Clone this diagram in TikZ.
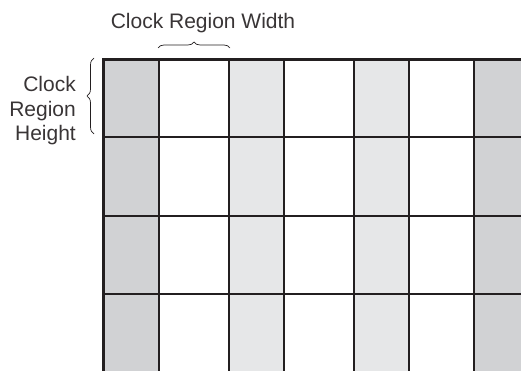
\documentclass[tikz,border=0pt]{standalone}
\usepackage{fontspec}
\setmainfont{Liberation Sans}
\usetikzlibrary{decorations.pathreplacing}
\definecolor{darkcol}{HTML}{D1D2D4}
\definecolor{lightcol}{HTML}{E6E7E8}
\definecolor{inkcol}{HTML}{231F20}
\tikzset{
  gridline/.style={draw=inkcol, line width=2pt},
  edgeline/.style={draw=inkcol, line width=3pt},
  bracemark/.style={draw=inkcol, line width=0.7pt, decorate, decoration={brace, amplitude=6pt}},
  lbl/.style={font=\fontsize{21}{24}\selectfont, text=inkcol!90!white, inner sep=0pt},
}
\begin{document}
\begin{tikzpicture}[x=1pt,y=-1pt]
\useasboundingbox (0,0) rectangle (521,371);
% column fills
\fill[darkcol] (103,60) rectangle (159,371);
\fill[lightcol] (228.5,60) rectangle (283.5,371);
\fill[lightcol] (353.5,60) rectangle (408.5,371);
\fill[darkcol] (474,60) rectangle (521,371);
% coordinates
\coordinate (tl) at (103.5,60);
\coordinate (tr) at (521,60);
\coordinate (bl) at (103.5,371);
% inner vertical lines
\foreach \x in {159,228.5,283.5,353.5,408.5,474}
  \draw[gridline] (\x,60) -- (\x,371);
% inner horizontal lines
\foreach \y in {137,215.5,294}
  \draw[gridline] (103.5,\y) -- (521,\y);
% outer edges
\draw[edgeline] (bl) -- (tl) -- (tr);
% braces
\coordinate (wb1) at (158,48);
\coordinate (wb2) at (230,48);
\draw[bracemark] (wb1) -- (wb2);
\coordinate (hb1) at (94,134);
\coordinate (hb2) at (94,58);
\draw[bracemark, decoration={brace, amplitude=7pt}] (hb1) -- (hb2);
% labels
\node[lbl, anchor=base] (wlab) at (203,29) {Clock Region Width};
\node[lbl, anchor=base east] (h1) at (76,91.5) {Clock};
\node[lbl, anchor=base east] (h2) at (76,116.5) {Region};
\node[lbl, anchor=base east] (h3) at (76,141) {Height};
\end{tikzpicture}
\end{document}
